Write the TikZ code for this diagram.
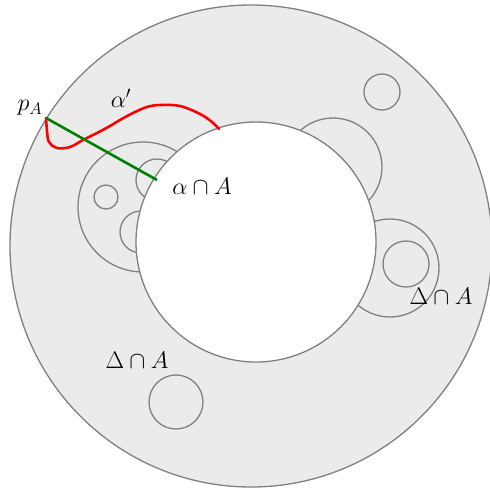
\RequirePackage{fix-cm}
\documentclass[tikz,border=0pt]{standalone}
\usetikzlibrary{calc}
\definecolor{ringgray}{HTML}{EBEBEB}
\definecolor{edgegray}{HTML}{808080}
\definecolor{curvered}{HTML}{FF0000}
\definecolor{linegreen}{HTML}{008000}
\begin{document}
\begin{tikzpicture}[x=1pt,y=-1pt,
  edge/.style={draw=edgegray,line width=1.3pt},
  lbl/.style={font=\fontsize{24}{29}\selectfont,inner sep=0pt}]
\useasboundingbox (0,0) rectangle (490,488);
% outer disc
\fill[ringgray] (251,246) circle (241);
\draw[edge] (251,246) circle (241);
% attached circles
\draw[edge] (143,207) circle (65);
\draw[edge] (157,180) circle (21);
\draw[edge] (141,232) circle (21);
\draw[edge] (333,167) circle (49);
\draw[edge] (390,268) circle (49);
% inner hole
\fill[white] (256,242) circle (120);
\draw[edge] (256,242) circle (120);
% free circles
\draw[edge] (106,197) circle (12);
\draw[edge] (382,92) circle (18);
\draw[edge] (406,264) circle (23);
\draw[edge] (176,402) circle (27);
% points
\coordinate (pA) at (46,118);
\coordinate (aA) at (157,180);
% red curve
\draw[curvered,line width=2.6pt,line join=round,line cap=round] plot[smooth,tension=0.6] coordinates
 {(46,118) (47,131) (49,142) (57,148) (70,147) (83,140) (97,133) (110,126) (120,120) (133,113) (147,107) (160,105) (180,106) (200,114) (212,122) (219,129)};
% green line
\draw[linegreen,line width=2.6pt] (pA) -- (aA);
% labels
\node[lbl] (lpA) at (30,108) {$p_A$};
\node[lbl] (lalpha) at (121,98) {$\alpha'$};
\node[lbl] (laA) at (202,186) {$\alpha\cap A$};
\node[lbl] (lD1) at (441,296) {$\Delta\cap A$};
\node[lbl] (lD2) at (137,360) {$\Delta\cap A$};
\end{tikzpicture}
\end{document}
